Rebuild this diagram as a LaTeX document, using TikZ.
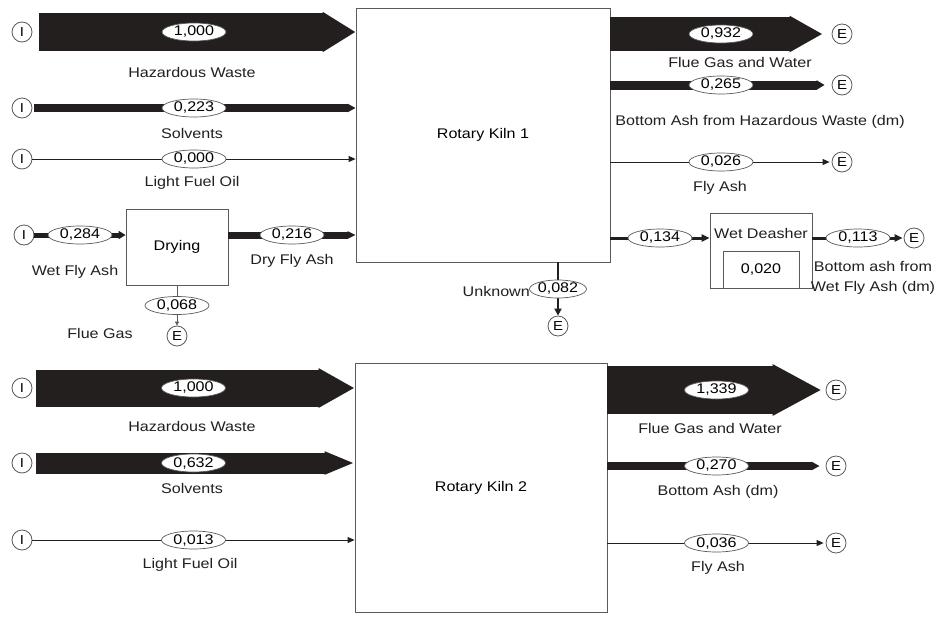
\documentclass[tikz,border=0pt]{standalone}
\usepackage{fontspec}
\setmainfont{Liberation Sans}[FakeStretch=1.15]
\usetikzlibrary{arrows.meta,shapes.geometric,calc}
\definecolor{dk}{HTML}{231F1E}
\definecolor{gc}{HTML}{5A5A5A}
\begin{document}
\begin{tikzpicture}[x=1pt,y=-1pt,font=\fontsize{14}{16}\selectfont,
  io/.style={circle,draw=gc,line width=0.8pt,minimum size=20pt,inner sep=0pt,fill=white,font=\fontsize{13}{15}\selectfont},
  val/.style={ellipse,draw=gc,fill=white,line width=0.7pt,minimum width=64pt,minimum height=18pt,inner sep=0pt},
  box/.style={rectangle,draw=gc,line width=0.8pt,fill=white,inner sep=0pt},
  lbl/.style={inner sep=0pt,text=dk},
  band/.style 2 args={draw=dk,line width=#1,-{Triangle[length=#2,width=#1]}},
  sband/.style n args={3}{draw=dk,line width=#1,-{Triangle[length=#2,width=#3]}},
  thinline/.style={draw=dk,line width=0.9pt,-{Triangle[length=7pt,width=6pt]}},
  gline/.style={draw=gc,line width=0.8pt,-{Triangle[length=4pt,width=4pt]}}]
\useasboundingbox (0,0) rectangle (942,616);
\fill[white] (0,0) rectangle (942,616);

% ---------- upper system ----------
\node[box,minimum width=254pt,minimum height=254pt] (K1) at (483,135) {Rotary Kiln 1};
\node[io] (iHW1) at (22,32) {I};
\node[io] (iS1) at (22,108) {I};
\node[io] (iL1) at (22,159) {I};
\node[io] (iW) at (24,235) {I};
\node[box,minimum width=102pt,minimum height=76pt] (Dry) at (177,247) {Drying};
\node[io] (eFGd) at (177,336) {E};
\node[io] (eFG1) at (842,34) {E};
\node[io] (eBA1) at (842,85) {E};
\node[io] (eFA1) at (842,162) {E};
\node[box,minimum width=102pt,minimum height=75pt] (WD) at (761,250.5) {};
\node[lbl] (wdT) at (761,233) {Wet Deasher};
\node[box,minimum width=76pt,minimum height=37pt] (wdIn) at (761,269.5) {0,020};
\node[io] (eWD) at (914,238) {E};
\node[io] (eU) at (558,326) {E};

\draw[band={38pt}{33pt},shorten <=7pt] (iHW1.east) -- node[val]{1,000} (K1.west |- iHW1);
\draw[band={8pt}{8pt},shorten <=2pt] (iS1.east) -- node[val]{0,223} (K1.west |- iS1);
\draw[thinline] (iL1.east) -- node[val]{0,000} (K1.west |- iL1);
\draw[sband={5pt}{7pt}{8pt}] (iW.east) -- node[val]{0,284} (Dry.west |- iW);
\draw[band={7pt}{8pt}] (Dry.east |- iW) -- node[val]{0,216} (K1.west |- iW);
\draw[gline] (Dry.south) -- node[val]{0,068} (eFGd.north);

\draw[band={34pt}{33pt},shorten >=9pt] (K1.east |- eFG1) -- node[val]{0,932} (eFG1.west);
\draw[band={9pt}{8pt},shorten >=7pt] (K1.east |- eBA1) -- node[val]{0,265} (eBA1.west);
\draw[thinline,shorten >=2pt] (K1.east |- eFA1) -- node[val]{0,026} (eFA1.west);
\draw[sband={3pt}{8pt}{7pt}] (K1.east |- eWD) -- node[val]{0,134} (WD.west |- eWD);
\draw[sband={3pt}{8pt}{7pt},shorten >=1pt] (WD.east |- eWD) -- node[val]{0,113} (eWD.west);
\draw[sband={2pt}{7pt}{7pt}] (K1.south -| eU) -- node[val,minimum width=55pt]{0,082} (eU.north);

\node[lbl] (tHW1) at (192,72) {Hazardous Waste};
\node[lbl] (tS1) at (192,133) {Solvents};
\node[lbl] (tL1) at (192,183) {Light Fuel Oil};
\node[lbl] (tW) at (75,272) {Wet Fly Ash};
\node[lbl] (tD) at (292,261) {Dry Fly Ash};
\node[lbl] (tFGd) at (100,333) {Flue Gas};
\node[lbl] (tFG1) at (740,62) {Flue Gas and Water};
\node[lbl] (tBA1) at (760,122) {Bottom Ash from Hazardous Waste (dm)};
\node[lbl] (tFA1) at (720,188) {Fly Ash};
\node[lbl,align=center,font=\fontsize{14}{20}\selectfont] (tWD) at (873,278) {Bottom ash from\\Wet Fly Ash (dm)};
\node[lbl,anchor=east] (tU) at (530,291) {Unknown};

% ---------- lower system ----------
\node[box,minimum width=252pt,minimum height=249pt] (K2) at (481,487.5) {Rotary Kiln 2};
\node[io] (iHW2) at (22,388) {I};
\node[io] (iS2) at (22,463) {I};
\node[io] (iL2) at (22,540) {I};
\node[io] (eFG2) at (836,390) {E};
\node[io] (eBA2) at (836,466) {E};
\node[io] (eFA2) at (836,543) {E};

\draw[band={37pt}{36pt},shorten <=4pt] (iHW2.east) -- node[val]{1,000} (K2.west |- iHW2);
\draw[band={21pt}{30pt},shorten <=4pt] (iS2.east) -- node[val]{0,632} (K2.west |- iS2);
\draw[thinline] (iL2.east) -- node[val]{0,013} (K2.west |- iL2);
\draw[band={48pt}{49pt},shorten >=4pt] (K2.east |- eFG2) -- node[val]{1,339} (eFG2.west);
\draw[band={8pt}{8pt},shorten >=6pt] (K2.east |- eBA2) -- node[val]{0,270} (eBA2.west);
\draw[thinline,shorten >=2pt] (K2.east |- eFA2) -- node[val]{0,036} (eFA2.west);

\node[lbl] (tHW2) at (192,426) {Hazardous Waste};
\node[lbl] (tS2) at (192,488) {Solvents};
\node[lbl] (tL2) at (190,565) {Light Fuel Oil};
\node[lbl] (tFG2) at (710,428) {Flue Gas and Water};
\node[lbl] (tBA2) at (718,492) {Bottom Ash (dm)};
\node[lbl] (tFA2) at (718,568) {Fly Ash};
\end{tikzpicture}
\end{document}
